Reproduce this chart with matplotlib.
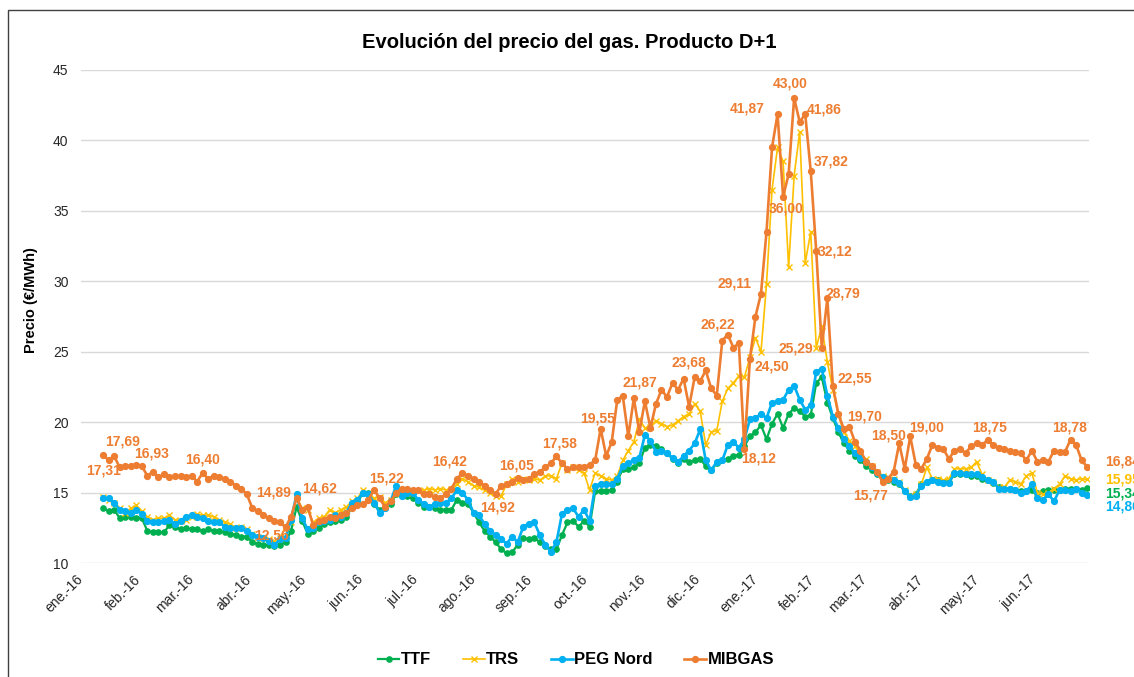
import pandas as pd
import matplotlib
matplotlib.use('Agg')
import matplotlib.pyplot as plt
from matplotlib.patches import Rectangle

plt.rcParams['font.family'] = ['Liberation Sans', 'DejaVu Sans']

# precios cada 3 dias desde el 13-ene-2016 hasta el 30-jun-2017
fechas = pd.date_range('2016-01-13', periods=179, freq='3D')

ttf = [13.9, 13.7, 13.8, 13.2, 13.3, 13.3, 13.2,
       13.2, 12.3, 12.2, 12.2, 12.2, 12.7, 12.6, 12.4, 12.5,
       12.4, 12.4, 12.3, 12.4, 12.3, 12.3, 12.2, 12.1, 12.0, 11.9, 11.9,
       11.5, 11.4, 11.3, 11.3, 11.2, 11.3, 11.5, 12.3, 14.0, 13.0,
       12.1, 12.3, 12.5, 12.8, 12.9, 13.0, 13.1, 13.3, 14.0, 14.3,
       15.0, 15.0, 14.2, 13.8, 13.9, 14.2, 14.9, 14.9, 14.8, 14.6,
       14.3, 14.0, 14.0, 13.9, 13.8, 13.8, 13.8, 14.5, 14.3, 14.2,
       13.6, 12.9, 12.3, 11.9, 11.5, 11.0, 10.7, 10.8, 11.3, 11.8, 11.7,
       11.8, 11.5, 11.2, 11.0, 11.0, 12.0, 12.9, 13.0, 12.6, 13.0,
       12.6, 15.1, 15.1, 15.1, 15.2, 15.8, 16.7, 16.7, 16.8, 17.1,
       18.2, 18.4, 18.3, 18.1, 17.8, 17.4, 17.1, 17.4, 17.2, 17.3,
       17.4, 16.9, 16.6, 17.1, 17.3, 17.4, 17.6, 17.7, 18.3, 19.0,
       19.3, 19.8, 18.8, 19.9, 20.6, 19.6, 20.6, 21.0, 20.8, 20.4, 20.5,
       22.8, 23.2, 21.4, 20.3, 19.3, 18.5, 18.0, 17.6, 17.3,
       16.9, 16.6, 16.3, 16.0, 15.9, 15.8, 15.6, 15.1, 14.8, 14.9,
       15.6, 15.8, 15.9, 15.9, 15.8, 15.8, 16.3, 16.3, 16.3, 16.2,
       16.2, 16.0, 15.9, 15.7, 15.4, 15.3, 15.3, 15.2, 15.1, 15.1, 15.2,
       15.0, 15.1, 15.2, 15.2, 15.2, 15.3, 15.3, 15.3, 15.2, 15.34]

trs = [14.7, 14.5, 14.3, 13.9, 13.6, 13.9, 14.1,
       13.7, 13.3, 13.1, 13.2, 13.2, 13.4, 13.1, 13.0, 13.1,
       13.3, 13.5, 13.4, 13.4, 13.3, 13.1, 12.9, 12.8, 12.5, 12.6, 12.4,
       12.1, 11.9, 11.8, 11.7, 11.6, 11.8, 12.6, 12.9, 14.7, 13.9,
       13.8, 12.9, 13.2, 13.3, 13.8, 13.6, 13.8, 14.0, 14.4, 14.6,
       15.2, 14.8, 14.6, 14.7, 14.3, 14.5, 15.0, 15.1, 15.0, 15.1,
       15.1, 15.2, 15.3, 15.2, 15.3, 15.2, 15.3, 15.6, 16.0, 15.8,
       15.5, 15.4, 15.2, 15.0, 14.8, 14.8, 15.6, 16.0, 15.8, 16.0, 15.9,
       16.0, 15.9, 16.2, 16.2, 16.0, 17.1, 16.6, 16.8, 16.6, 16.4,
       15.2, 16.4, 16.2, 16.0, 15.9, 16.2, 17.3, 18.0, 18.6, 20.2,
       19.6, 19.7, 20.1, 19.9, 19.7, 19.8, 20.1, 20.4, 20.6, 21.3,
       20.8, 18.4, 19.3, 19.4, 21.5, 22.4, 22.8, 23.3, 23.2, 24.6,
       26.0, 25.0, 29.8, 36.5, 39.5, 38.5, 31.0, 37.5, 40.6, 31.3, 33.5,
       25.3, 26.8, 24.3, 22.3, 20.5, 19.3, 18.7, 18.3, 17.7,
       17.4, 16.9, 16.5, 16.2, 16.1, 16.0, 15.8, 15.2, 14.8, 14.9,
       15.6, 16.8, 16.0, 16.0, 15.9, 16.0, 16.7, 16.7, 16.7, 16.8,
       17.2, 16.3, 15.9, 15.8, 15.4, 15.4, 15.9, 15.8, 15.6, 16.2, 16.4,
       15.0, 14.9, 15.0, 15.3, 15.6, 16.2, 16.0, 15.9, 16.0, 15.95]

peg = [14.6, 14.6, 14.3, 13.8, 13.7, 13.6, 13.8,
       13.5, 13.0, 12.9, 12.9, 13.0, 13.1, 12.8, 13.0, 13.3,
       13.4, 13.3, 13.2, 13.0, 12.9, 12.9, 12.6, 12.5, 12.5, 12.5, 12.3,
       12.0, 11.9, 11.8, 11.6, 11.3, 11.7, 11.8, 13.1, 14.9, 13.2,
       12.4, 12.5, 12.9, 13.0, 13.1, 13.4, 13.3, 13.6, 14.3, 14.5,
       15.0, 14.9, 14.3, 13.6, 13.9, 14.4, 15.5, 14.8, 15.0, 15.0,
       14.5, 14.2, 14.0, 14.2, 14.3, 14.3, 14.6, 15.2, 15.0, 14.5,
       13.6, 13.4, 12.8, 12.3, 12.0, 11.7, 11.4, 11.9, 11.5, 12.6, 12.8,
       12.9, 12.0, 11.3, 10.8, 11.5, 13.5, 13.8, 13.9, 13.3, 13.8,
       13.0, 15.5, 15.6, 15.6, 15.6, 16.0, 16.9, 17.1, 17.3, 17.5,
       19.1, 18.7, 17.9, 18.0, 17.8, 17.5, 17.2, 17.6, 18.0, 18.5,
       19.5, 17.3, 16.6, 17.2, 17.3, 18.4, 18.6, 18.2, 18.8, 20.2,
       20.3, 20.6, 20.3, 21.4, 21.5, 21.6, 22.3, 22.6, 21.6, 20.9, 21.2,
       23.6, 23.8, 21.9, 20.4, 19.6, 18.8, 18.3, 17.8, 17.5,
       17.2, 16.8, 16.4, 16.1, 16.0, 15.9, 15.7, 15.1, 14.7, 14.8,
       15.5, 15.8, 15.9, 15.8, 15.7, 15.7, 16.4, 16.4, 16.3, 16.3,
       16.3, 16.1, 15.9, 15.8, 15.3, 15.3, 15.3, 15.2, 15.0, 15.1, 15.6,
       14.6, 14.5, 14.9, 14.4, 15.2, 15.2, 15.1, 15.3, 15.0, 14.86]

mibgas = [17.69, 17.31, 17.6, 16.8, 16.9, 16.93, 17.0,
          16.9, 16.2, 16.5, 16.1, 16.3, 16.1, 16.2, 16.2, 16.1,
          16.2, 15.8, 16.40, 16.0, 16.2, 16.1, 16.0, 15.8, 15.5, 15.3, 14.89,
          13.9, 13.7, 13.4, 13.2, 13.0, 12.9, 12.56, 13.3, 14.62, 13.8,
          14.0, 12.7, 13.0, 13.1, 13.3, 13.2, 13.4, 13.6, 13.9, 14.1,
          14.2, 14.5, 15.22, 14.6, 14.0, 14.4, 15.0, 15.3, 15.3, 15.2,
          15.2, 14.9, 14.9, 14.7, 14.6, 14.9, 15.3, 16.0, 16.42, 16.2,
          16.0, 15.8, 15.5, 15.2, 14.92, 15.5, 15.6, 15.8, 16.05, 15.9, 16.0,
          16.3, 16.5, 16.8, 17.1, 17.58, 17.1, 16.7, 16.8, 16.8, 16.8,
          17.0, 17.3, 19.55, 17.6, 18.6, 21.6, 21.87, 19.0, 21.7, 19.3,
          21.5, 19.6, 21.3, 22.3, 21.8, 22.8, 22.3, 23.1, 21.1, 23.2,
          22.9, 23.68, 22.4, 21.9, 25.8, 26.22, 25.3, 25.6, 18.12, 24.50,
          27.5, 29.11, 33.5, 39.5, 41.87, 36.00, 37.6, 43.00, 41.3, 41.86, 37.82,
          32.12, 25.29, 28.79, 22.55, 20.6, 19.5, 19.70, 18.6, 18.0,
          17.2, 16.9, 16.5, 15.77, 16.0, 16.5, 18.50, 16.7, 19.00, 17.0,
          16.7, 17.4, 18.4, 18.2, 18.1, 17.4, 18.0, 18.1, 17.8, 18.3,
          18.5, 18.4, 18.75, 18.4, 18.2, 18.1, 18.0, 17.9, 17.8, 17.3, 18.0,
          17.2, 17.3, 17.2, 18.0, 17.9, 17.9, 18.78, 18.4, 17.3, 16.84]

# etiquetas de MIBGAS: (indice, dx, dy) en pixeles
etiquetas_mibgas = [(0, 19, 13), (1, -5, -10), (5, 21, 12), (18, 0, 14),
                    (26, 27, 2), (33, -14, -8), (35, 23, 10), (49, 12, 11),
                    (65, -13, 11), (71, 2, -14), (75, -1, 12), (82, 3, 13),
                    (90, -3, 10), (94, 17, 13), (109, -17, 8), (113, -10, 10),
                    (116, 14, -10), (117, 22, -8), (119, -26, 10), (122, -30, 5),
                    (123, 3, -12), (125, -4, 14), (127, 19, 5), (128, 20, 10),
                    (129, 19, 0), (130, -26, -1), (131, 16, 5), (132, 22, 8),
                    (135, 15, 10), (141, -12, -14), (144, -11, 8), (146, 16, 9),
                    (160, 2, 12), (175, -1, 12)]

nombres_mes = ['ene.', 'feb.', 'mar.', 'abr.', 'may.', 'jun.',
               'jul.', 'ago.', 'sep.', 'oct.', 'nov.', 'dic.']
meses = pd.date_range('2016-01-01', '2017-06-01', freq='MS')
etiquetas_mes = ["%s-%s" % (nombres_mes[m.month - 1], m.strftime('%y')) for m in meses]

verde = '#00B050'
amarillo = '#FFC000'
azul = '#00B0F0'
naranja = '#ED7D31'

fig = plt.figure(figsize=(11.34, 6.77), dpi=100)
ax = fig.add_axes([81 / 1134, 1 - 563.3 / 677, 1008 / 1134, 493.5 / 677])

ax.plot(fechas, ttf, color=verde, lw=1.6, marker='o', ms=3.8, label='TTF')
ax.plot(fechas, trs, color=amarillo, lw=1.2, marker='x', ms=4, mew=1, label='TRS')
ax.plot(fechas, peg, color=azul, lw=1.9, marker='o', ms=4.2, label='PEG Nord')
ax.plot(fechas, mibgas, color=naranja, lw=1.9, marker='o', ms=4.2, label='MIBGAS')

def etiqueta(serie, idx, dx, dy, color, ha='center') :
    ax.annotate(("%.2f" % serie[idx]).replace('.', ','), (fechas[idx], serie[idx]),
                xytext=(dx, dy), textcoords='offset pixels', ha=ha, va='center',
                fontsize=10, fontweight='bold', color=color, annotation_clip=False)

for idx, dx, dy in etiquetas_mibgas :
    etiqueta(mibgas, idx, dx, dy, naranja)

# las ultimas etiquetas quedan cortadas por el borde, como en el original
ultimo = len(fechas) - 1
etiqueta(mibgas, ultimo, 18, 5, naranja, ha='left')
etiqueta(trs, ultimo, 18, 0, amarillo, ha='left')
etiqueta(ttf, ultimo, 18, -5, verde, ha='left')
etiqueta(peg, ultimo, 18, -12, azul, ha='left')

ax.set_xlim(pd.Timestamp('2016-01-01'), pd.Timestamp('2017-07-01'))
ax.set_ylim(10, 45)
ax.set_yticks(range(10, 50, 5))
ax.set_xticks(meses)
ax.set_xticklabels(etiquetas_mes, rotation=45, ha='right', va='center',
                   rotation_mode='anchor', fontsize=10, color='#262626')
ax.tick_params(axis='x', length=0, pad=10)
ax.tick_params(axis='y', length=0, pad=9, labelsize=10, labelcolor='#262626')
ax.grid(axis='y', color='#D9D9D9', lw=1)
ax.set_axisbelow(True)
for s in ax.spines.values() :
    s.set_visible(False)

ax.set_ylabel('Precio (€/MWh)', fontsize=10.5, fontweight='bold')
ax.yaxis.set_label_coords(-0.043, 0.534)

fig.text(569 / 1134, 1 - 42 / 677, 'Evolución del precio del gas. Producto D+1',
         ha='center', va='center', fontsize=14.5, fontweight='bold')

fig.legend(loc='center', bbox_to_anchor=(576 / 1134, 1 - 660 / 677), ncol=4,
           frameon=False, prop={'weight': 'bold', 'size': 12},
           handlelength=1.3, handletextpad=0.1, columnspacing=1.9)

fig.patches.append(Rectangle((8 / 1134, -0.05), 1.2, 1 - 10 / 677 + 0.05,
                             transform=fig.transFigure, fill=False,
                             edgecolor='#404040', lw=1))

fig.savefig('out.png', dpi=100)
